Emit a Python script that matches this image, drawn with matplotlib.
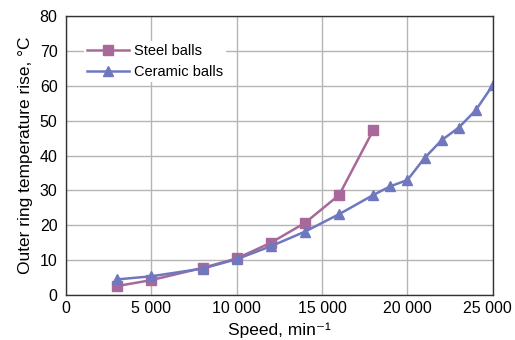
import matplotlib.pyplot as plt
import matplotlib.transforms as mtransforms
from matplotlib.ticker import FuncFormatter

plt.rcParams['font.family'] = ['Liberation Sans', 'DejaVu Sans']

# данные
steel_speed = [3000, 5000, 8000, 10000, 12000, 14000, 16000, 18000]
steel_temp = [2.6, 4.3, 7.8, 10.5, 15.0, 20.7, 28.7, 47.3]

ceramic_speed = [3000, 5000, 8000, 10000, 12000, 14000, 16000, 18000,
                 19000, 20000, 21000, 22000, 23000, 24000, 25000]
ceramic_temp = [4.5, 5.4, 7.6, 10.3, 14.0, 18.2, 23.2, 28.7,
                31.2, 33.0, 39.3, 44.4, 48.0, 53.0, 60.2]

x_ticks = [0, 5000, 10000, 15000, 20000, 25000]
y_ticks = [0, 10, 20, 30, 40, 50, 60, 70, 80]

fig = plt.figure(figsize=(5.15, 3.4), dpi=100)
ax = fig.add_axes([0.128, 0.132, 0.829, 0.821])

ax.plot(steel_speed, steel_temp, label='Steel balls', color='#a8689a',
        marker='s', markersize=7, linewidth=1.8)
ax.plot(ceramic_speed, ceramic_temp, label='Ceramic balls', color='#6f78bf',
        marker='^', markersize=7, linewidth=1.8)

ax.set_xlim(0, 25000)
ax.set_ylim(0, 80)
ax.set_xticks(x_ticks)
ax.set_yticks(y_ticks)
ax.xaxis.set_major_formatter(FuncFormatter(lambda v, p: f'{int(v):,}'.replace(',', ' ')))
ax.tick_params(length=0, labelsize=11.5)
ax.tick_params(axis='y', pad=6)
ax.tick_params(axis='x', pad=4)
ax.grid(color='#b5b5b5', linewidth=1)
ax.set_axisbelow(True)
for s in ax.spines.values():
    s.set_color('#333333')
    s.set_linewidth(1)

# последнюю подпись чуть левее, чтобы не обрезалась
last = ax.get_xticklabels()[-1]
last.set_transform(last.get_transform() + mtransforms.ScaledTranslation(-5 / 100, 0, fig.dpi_scale_trans))

ax.set_xlabel('Speed, min\u207b\u00b9', fontsize=12.5, labelpad=5)
ax.set_ylabel('Outer ring temperature rise, \u00b0C', fontsize=12.5, labelpad=5)

leg = ax.legend(loc='upper left', bbox_to_anchor=(0.025, 0.935), frameon=True,
                fontsize=10.5, handlelength=2.9, borderpad=0.2, labelspacing=0.45,
                handletextpad=0.35)
leg.get_frame().set_edgecolor('none')
leg.get_frame().set_facecolor('white')
leg.get_frame().set_alpha(1)

plt.savefig('out.png', dpi=100)
